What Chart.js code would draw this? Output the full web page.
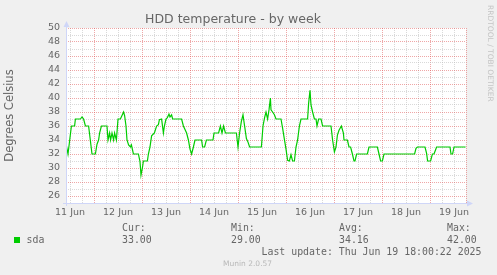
<!DOCTYPE html>
<html>
<head>
<meta charset="utf-8">
<title>HDD temperature - by week</title>
<script src="https://cdn.jsdelivr.net/npm/chart.js@4.4.1/dist/chart.umd.min.js"></script>
<style>
  html, body { margin: 0; padding: 0; background: #f0f0f0; }
  #wrap { position: relative; width: 497px; height: 275px; overflow: hidden; }
  #chart { position: absolute; left: 0; top: 0; }
  .lg { position: absolute; font-family: 'DejaVu Sans Mono', monospace; font-size: 9.9px; line-height: 12px; color: #666; white-space: pre; }
  .box { position: absolute; left: 14px; top: 237px; width: 6px; height: 6px; background: #00cc00; }
  .wm { position: absolute; font-family: 'DejaVu Sans', sans-serif; white-space: nowrap; }
</style>
</head>
<body>
<div id="wrap">
  <canvas id="chart" width="497" height="275"></canvas>
  <div class="wm" style="left:485px; top:5px; font-size:7.5px; line-height:10px; color:#c4c4c4; writing-mode:vertical-rl;">RRDTOOL / TOBI OETIKER</div>
  <div class="lg" style="left:122px; top:221.7px;">Cur:</div>
  <div class="lg" style="left:231px; top:221.7px;">Min:</div>
  <div class="lg" style="left:339px; top:221.7px;">Avg:</div>
  <div class="lg" style="left:447px; top:221.7px;">Max:</div>
  <div class="box"></div>
  <div class="lg" style="left:26.5px; top:233.8px;">sda</div>
  <div class="lg" id="cur" style="left:122px; top:233.8px;"></div>
  <div class="lg" id="min" style="left:231px; top:233.8px;"></div>
  <div class="lg" id="avg" style="left:339px; top:233.8px;"></div>
  <div class="lg" id="max" style="left:447px; top:233.8px;"></div>
  <div class="lg" style="left:261.5px; top:245.6px;">Last update: Thu Jun 19 18:00:22 2025</div>
  <div class="wm" style="left:223px; top:259.4px; font-size:7.5px; line-height:9px; color:#b8b8b8;">Munin 2.0.57</div>
</div>
<script>
// HDD temperature (sda), one week
// x = hours since Jun 11 10:00, graph ends Jun 19 18:00 (200 h)

const hours = [
  0, 1, 2.7, 4.3, 4.7, 7.2, 8, 8.8, 9.7, 11.3, 13, 14.7, 15.5, 16.3, 16.8, 17.7,
  20.5, 21, 21.8, 22.3, 23, 23.8, 24.3, 25.2, 26, 27.2, 28, 28.8, 29.3, 30, 30.5,
  31.3, 32.2, 32.7, 33.7, 36.2, 37, 37.5, 38.2, 38.7, 40.7, 41.2, 42, 42.8, 44.2,
  45.3, 46.2, 46.7, 47.8, 48.7, 49.2, 50, 50.7, 51.5, 52, 52.8, 53.3, 57.8, 58.7,
  59.5, 60.3, 61.2, 62, 62.8, 63.7, 64.5, 67.8, 68.3, 69.3, 70.2, 73.5, 74, 76.3,
  77.2, 78, 78.8, 79.7, 85.2, 86, 86.8, 87.7, 88.5, 89.3, 90.2, 91, 91.8, 97.7,
  98.5, 99.3, 100, 100.8, 101.5, 102.2, 102.5, 103.3, 104.2, 105, 107.5, 108.3,
  109.2, 110, 110.8, 111.7, 112.5, 113.3, 114.2, 115, 115.8, 116.7, 117.5, 120.8,
  121.3, 122, 122.5, 123.3, 124.2, 125, 125.5, 126.3, 127.5, 128.3, 132.5, 133.3,
  134.2, 135, 135.7, 136.5, 137.7, 138.7, 139, 140.7, 141.5, 142.3, 143.2, 144,
  144.5, 145.3, 150.7, 151.5, 155.7, 156.5, 157.3, 158.2, 159, 174.3, 175, 175.7,
  179.5, 180.3, 180.8, 182.3, 183.2, 184, 184.8, 185.3, 192, 192.5, 193.3, 194, 199.8
];
const temps = [
  33.5, 32, 36, 36, 37, 37, 37.3, 37, 36, 36, 32, 32, 33.4, 34, 35, 36,
  36, 34, 35, 34, 35, 34, 35, 34, 37, 37, 37.5, 38, 37.5, 36, 34,
  33.3, 33, 33.3, 32, 32, 30.9, 29, 30, 31, 31, 32, 33, 34.6, 35,
  36, 36.2, 36.9, 37, 35, 36, 37, 37.2, 37.7, 37.3, 37.6, 37, 37, 36,
  35.5, 35, 34, 32.7, 32, 33, 34, 34, 33, 33, 34, 34, 35, 35,
  36, 35, 36, 35, 35, 33, 35, 36.7, 37.6, 36, 34.2, 33.7, 33, 33,
  36, 37.2, 38, 37, 38.3, 40, 38.3, 38, 37.6, 37, 37, 35.7,
  34.1, 32.7, 31.1, 31, 31.9, 31, 31, 33, 34, 36, 37, 37,
  39.2, 41.1, 39, 38, 37, 37, 36, 37, 37, 36, 36, 34,
  32.3, 33, 34.7, 35.4, 36, 35, 34, 34, 33, 33, 32, 31,
  31, 32, 32, 33, 33, 32, 31, 31, 32, 32, 32.8, 33,
  33, 32.1, 31, 31, 32, 32, 32.6, 33, 33, 32, 32, 33, 33
];

const dayLabels = ['11 Jun', '12 Jun', '13 Jun', '14 Jun', '15 Jun', '16 Jun', '17 Jun', '18 Jun', '19 Jun'];
const yTickLabels = ['26', '28', '30', '32', '34', '36', '38', '40', '42', '44', '46', '48', '50'];
const summary = { cur: '33.00', min: '29.00', avg: '34.16', max: '42.00' };

document.getElementById('cur').textContent = summary.cur;
document.getElementById('min').textContent = summary.min;
document.getElementById('avg').textContent = summary.avg;
document.getElementById('max').textContent = summary.max;

const GRID = 'rgba(186,186,186,0.55)';
const MGRID = 'rgba(224,80,80,0.5)';
const AXIS = '#cfd6f8';
const FONT = '#666666';

// grid every 6 h (00/06/12/18), first one is Jun 11 12:00
const xTicks = [];
for (let h = 2; h <= 200; h += 6) xTicks.push(h);
const isMidnight = h => (h - 14) % 24 === 0 || h === 200;

const frame = {
  id: 'frame',
  beforeDraw(chart) {
    const { ctx, chartArea: a } = chart;
    ctx.save();
    ctx.fillStyle = '#f0f0f0';
    ctx.fillRect(0, 0, chart.width, chart.height);
    ctx.fillStyle = '#ffffff';
    ctx.fillRect(a.left, a.top, a.right - a.left, a.bottom - a.top);
    ctx.restore();
  },
  afterDatasetsDraw(chart) {
    const { ctx, chartArea: a } = chart;
    const x0 = a.left + 0.5, y0 = a.bottom + 0.5;
    ctx.save();
    ctx.strokeStyle = AXIS;
    ctx.fillStyle = AXIS;
    ctx.lineWidth = 1;
    ctx.beginPath();
    ctx.moveTo(x0, a.bottom + 3);
    ctx.lineTo(x0, a.top - 3);
    ctx.moveTo(a.left - 3, y0);
    ctx.lineTo(a.right + 3, y0);
    ctx.stroke();
    // arrows
    ctx.beginPath();
    ctx.moveTo(x0, a.top - 7);
    ctx.lineTo(x0 - 3, a.top - 1);
    ctx.lineTo(x0 + 3, a.top - 1);
    ctx.closePath();
    ctx.fill();
    ctx.beginPath();
    ctx.moveTo(a.right + 7, y0);
    ctx.lineTo(a.right + 1, y0 - 3);
    ctx.lineTo(a.right + 1, y0 + 3);
    ctx.closePath();
    ctx.fill();
    ctx.restore();
  }
};

new Chart(document.getElementById('chart'), {
  type: 'line',
  data: {
    datasets: [{
      label: 'sda',
      data: hours.map((h, i) => ({ x: h, y: temps[i] })),
      borderColor: '#00cc00',
      borderWidth: 1.2,
      pointRadius: 0,
      tension: 0,
      fill: false
    }]
  },
  options: {
    responsive: false,
    animation: false,
    layout: { padding: { left: 0, right: 31, top: 0, bottom: 0 } },
    plugins: {
      legend: { display: false },
      tooltip: { enabled: false },
      title: {
        display: true,
        text: 'HDD temperature - by week',
        color: FONT,
        font: { family: 'DejaVu Sans', size: 12.5, weight: 'normal' },
        padding: { top: 12.5, bottom: 0.5 }
      }
    },
    scales: {
      x: {
        type: 'linear',
        min: 0,
        max: 200,
        afterBuildTicks: axis => { axis.ticks = xTicks.map(v => ({ value: v })); },
        afterFit: axis => { axis.height = 72; },
        grid: {
          drawTicks: false,
          color: c => (c.tick && isMidnight(c.tick.value)) ? MGRID : GRID
        },
        border: { display: false, dash: [1, 1] },
        ticks: {
          autoSkip: false,
          maxRotation: 0,
          minRotation: 0,
          padding: 3.5,
          color: FONT,
          font: { family: 'DejaVu Sans', size: 9.5 },
          callback: v => ((v - 2) % 24 === 0 ? dayLabels[(v - 2) / 24] : '')
        }
      },
      y: {
        min: 25,
        max: 50,
        afterBuildTicks: axis => {
          const t = [];
          for (let v = 25; v <= 50; v++) t.push({ value: v });
          axis.ticks = t;
        },
        afterFit: axis => { axis.width = 66; },
        grid: {
          drawTicks: false,
          color: c => (c.tick && c.tick.value % 2 === 0) ? MGRID : GRID
        },
        border: { display: false, dash: [1, 1] },
        ticks: {
          autoSkip: false,
          padding: 6,
          color: FONT,
          font: { family: 'DejaVu Sans', size: 9.5 },
          callback: v => (yTickLabels.includes(String(v)) ? String(v) : '')
        },
        title: {
          display: true,
          text: 'Degrees Celsius',
          color: FONT,
          font: { family: 'DejaVu Sans', size: 11.5 },
          padding: { top: 3.6, bottom: 0 }
        }
      }
    }
  },
  plugins: [frame]
});
</script>
</body>
</html>
